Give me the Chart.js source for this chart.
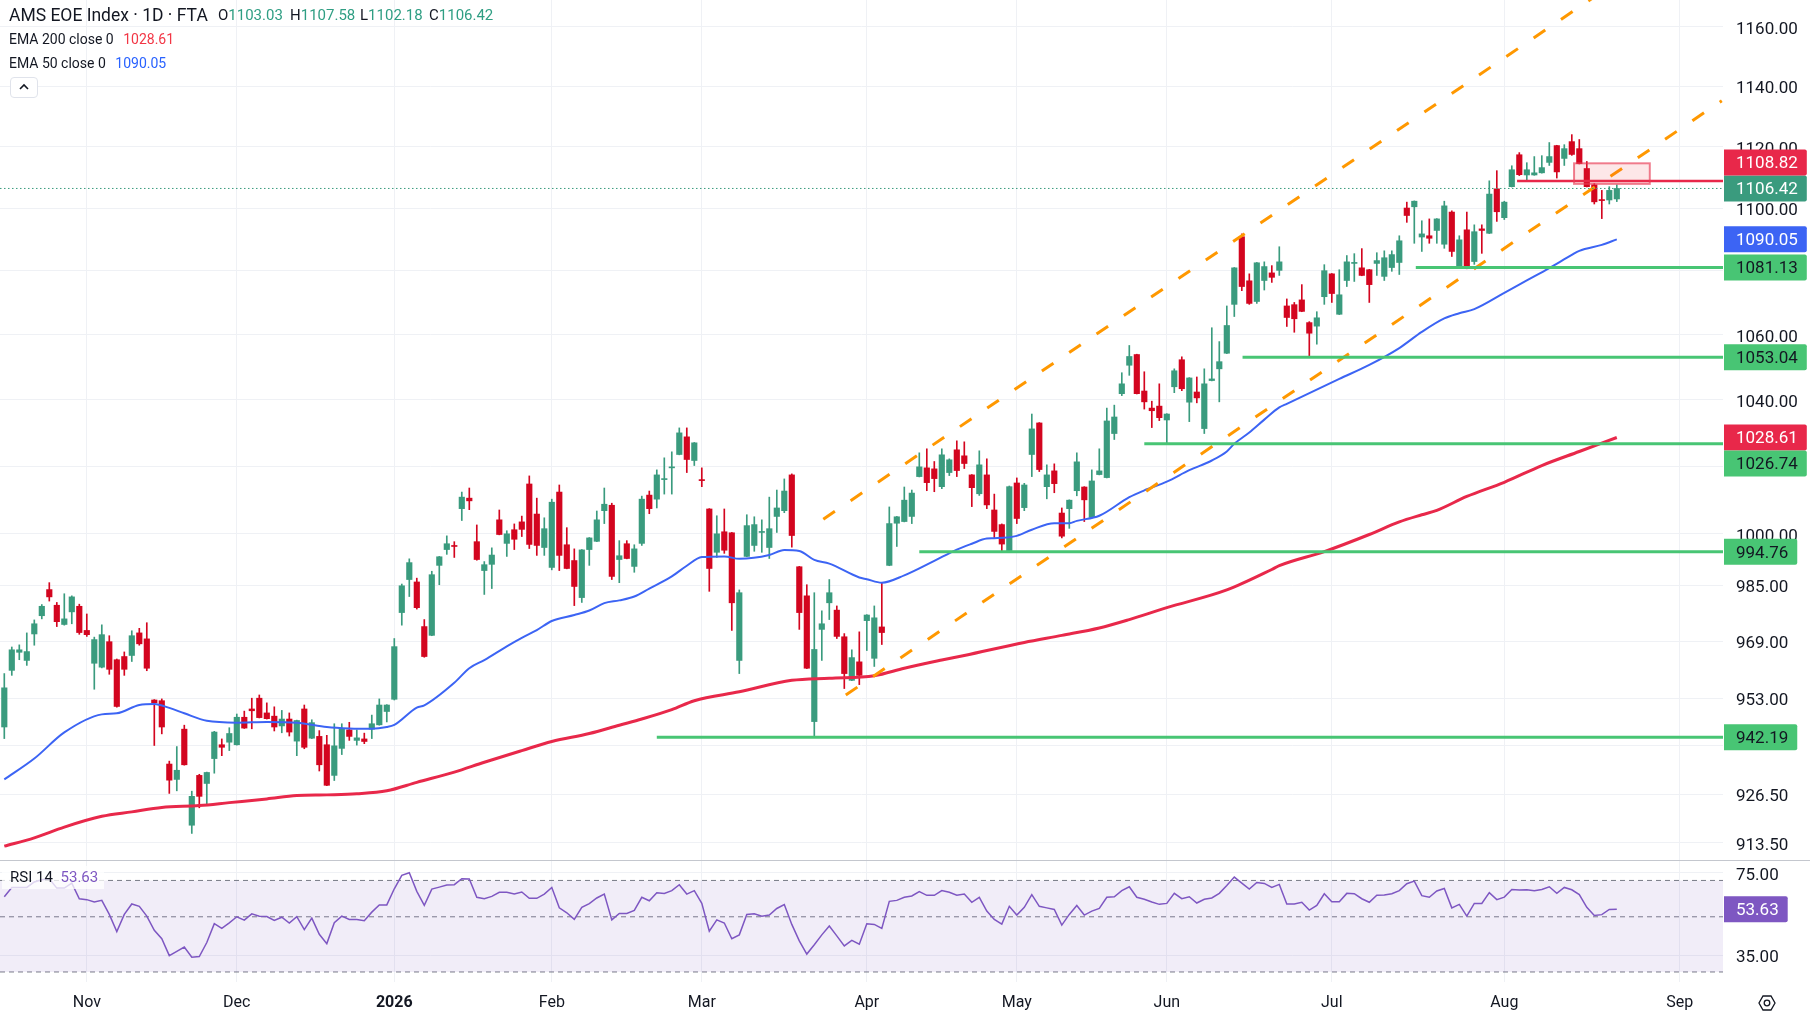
<!DOCTYPE html>
<html lang="en">
<head>
<meta charset="utf-8">
<title>AMS EOE Index · 1D · FTA</title>
<script src="https://cdn.jsdelivr.net/npm/chart.js@4.4.1/dist/chart.umd.min.js"></script>
<style>
html, body { margin: 0; padding: 0; background: #ffffff; }
body { position: relative; width: 1810px; height: 1019px; overflow: hidden; font-family: Roboto, "Noto Sans", sans-serif; color: #131722; }
canvas { position: absolute; left: 0; }
#mainChart { top: 0; }
#rsiChart { top: 861px; }
#sep { position: absolute; left: 0; top: 860px; width: 1810px; height: 1px; background: #c4c7ce; }
.txt { position: absolute; white-space: nowrap; }
.up { color: #2f9e83; }
#btn { position: absolute; left: 10px; top: 77px; width: 26px; height: 19px; border: 1px solid #e0e3eb; border-radius: 4px; background: #fff; }
#rsiLegend { position: absolute; left: 2px; top: 866px; height: 23px; padding: 0 6px 0 8px; background: rgba(255,255,255,0.75); font-size: 15px; line-height: 23px; }
</style>
</head>
<body>
<canvas id="mainChart" width="1810" height="860"></canvas>
<div id="sep"></div>
<canvas id="rsiChart" width="1810" height="158"></canvas>

<div class="txt" style="left:9px;top:4px;font-size:17.5px;line-height:22px;">AMS EOE Index · 1D · FTA</div>
<div class="txt" style="left:218px;top:5px;font-size:15px;line-height:20px;">O<span id="vO" class="up"></span></div>
<div class="txt" style="left:290px;top:5px;font-size:15px;line-height:20px;">H<span id="vH" class="up"></span></div>
<div class="txt" style="left:360px;top:5px;font-size:15px;line-height:20px;">L<span id="vL" class="up"></span></div>
<div class="txt" style="left:429px;top:5px;font-size:15px;line-height:20px;">C<span id="vC" class="up"></span></div>
<div class="txt" style="left:9px;top:30px;font-size:14px;line-height:18px;">EMA 200 close 0 <span id="vE200" style="color:#f23645;margin-left:6px;"></span></div>
<div class="txt" style="left:9px;top:54px;font-size:14px;line-height:18px;">EMA 50 close 0 <span id="vE50" style="color:#2962ff;margin-left:6px;"></span></div>
<div id="btn"><svg width="26" height="19" viewBox="0 0 26 19"><polyline points="9,11 13,7 17,11" fill="none" stroke="#131722" stroke-width="1.6"/></svg></div>
<div id="rsiLegend">RSI 14 <span id="vRsi" style="color:#7e57c2;margin-left:4px;"></span></div>
<svg style="position:absolute;left:1758px;top:994px" width="18" height="18" viewBox="0 0 18 18"><path d="M5 2 L13 2 L17 9 L13 16 L5 16 L1 9 Z" fill="none" stroke="#131722" stroke-width="1.3"/><circle cx="9" cy="9" r="2.8" fill="none" stroke="#131722" stroke-width="1.3"/></svg>

<script>
// daily candles, 17 Oct 2025 .. 24 Aug 2026 (bar index 0..215)
const opens = [945.0,960.8,965.9,963.6,971.1,976.3,983.8,979.3,973.8,977.4,
979.0,972.1,962.8,961.7,968.9,963.8,964.7,965.0,971.4,969.7,
952.5,952.3,934.8,930.6,944.4,918.2,931.7,929.5,936.3,940.1,
940.8,940.1,947.7,950.0,953.0,948.9,948.0,945.3,947.2,941.1,
950.0,941.9,942.4,940.1,931.7,939.1,944.2,941.3,941.7,944.4,
945.6,949.3,952.7,977.2,986.7,986.0,973.2,970.7,990.8,995.4,
996.5,1007.4,1010.5,997.7,989.3,991.1,1004.1,997.2,1001.2,1003.5,
1014.7,1005.8,996.0,990.2,1012.3,996.8,992.2,981.5,995.4,997.8,
1006.8,1008.4,992.5,997.1,990.5,997.2,1011.4,1010.2,1016.0,1019.5,
1023.5,1028.8,1021.7,1016.0,1007.3,994.6,1000.6,1000.3,963.6,993.4,
996.6,1000.4,996.0,1005.1,1006.8,1017.4,990.4,982.0,946.5,972.4,
980.0,977.9,970.3,958.0,963.2,974.9,964.2,973.1,990.8,1003.1,
1003.6,1005.1,1016.9,1019.5,1019.2,1013.9,1018.1,1024.9,1023.1,1017.4,
1011.8,1017.4,1007.0,1002.7,995.1,1015.0,1007.7,1023.5,1033.0,1013.9,
1018.6,1006.1,1007.4,1012.7,1013.8,1004.8,1017.5,1016.6,1029.8,1041.9,
1050.6,1053.9,1042.7,1037.5,1038.1,1033.9,1044.0,1052.3,1039.3,1042.4,
1031.3,1045.9,1049.5,1054.3,1069.5,1090.9,1076.9,1070.4,1077.0,1079.4,
1080.2,1069.0,1069.4,1070.9,1063.8,1062.7,1071.9,1079.1,1066.4,1077.0,
1082.4,1081.0,1080.4,1082.4,1078.3,1081.1,1082.7,1100.1,1100.5,1090.8,
1091.2,1092.9,1088.5,1098.8,1081.5,1093.1,1083.0,1093.4,1092.0,1106.3,
1097.0,1107.0,1117.4,1110.8,1110.8,1111.5,1114.9,1120.4,1116.2,1121.7,
1119.4,1112.9,1107.6,1102.7,1102.7,1103.03];

const highs = [959.9,967.4,968.0,971.4,975.1,979.5,985.8,980.1,982.6,982.0,
979.6,976.8,970.2,973.7,970.6,964.0,966.0,972.0,972.7,974.3,
952.6,952.8,935.6,939.6,945.5,927.4,932.0,932.6,943.8,941.7,
944.8,948.6,949.4,953.0,953.9,951.7,950.6,949.6,948.9,946.9,
951.1,947.0,944.0,942.7,945.9,945.9,946.3,944.2,943.3,948.3,
952.8,951.2,969.8,985.4,992.7,987.1,975.2,989.1,993.4,999.4,
997.7,1012.3,1013.5,1002.6,991.9,995.9,1007.0,1000.9,1002.9,1005.2,
1017.1,1010.5,1004.7,1010.2,1014.4,1001.8,995.6,995.4,998.9,1006.7,
1013.5,1009.0,998.0,998.0,996.8,1011.1,1012.6,1018.9,1022.5,1024.3,
1031.5,1031.5,1027.1,1019.5,1007.4,1005.3,1007.3,1000.4,983.7,1005.6,
1005.0,1004.1,1010.8,1012.9,1016.2,1017.7,990.5,985.2,982.9,977.7,
986.7,979.1,971.2,966.6,971.7,976.6,979.1,985.8,1007.9,1005.1,
1013.8,1012.9,1024.0,1025.2,1021.4,1025.2,1022.2,1027.6,1027.3,1017.5,
1024.6,1022.2,1011.7,1002.9,1014.1,1016.5,1014.9,1035.7,1033.1,1020.4,
1020.7,1007.6,1010.0,1024.0,1013.9,1018.9,1025.2,1037.5,1038.4,1048.3,
1056.7,1054.0,1048.6,1039.6,1044.9,1035.8,1049.5,1053.2,1046.8,1047.0,
1049.5,1062.2,1057.9,1069.0,1081.1,1091.8,1079.1,1082.7,1082.9,1081.7,
1087.7,1071.2,1070.1,1075.7,1064.1,1067.2,1082.0,1079.2,1080.4,1084.9,
1085.5,1087.1,1080.5,1085.8,1086.4,1086.4,1091.2,1102.0,1102.4,1096.0,
1096.6,1096.7,1102.3,1099.2,1091.2,1098.8,1094.7,1094.7,1108.9,1112.2,
1102.3,1113.8,1118.1,1114.8,1116.8,1117.1,1121.4,1120.5,1120.7,1124.0,
1122.4,1115.2,1108.0,1105.8,1107.0,1107.58];

const lows = [941.8,959.4,963.8,962.2,967.9,975.4,980.5,973.2,973.6,974.0,
971.0,970.4,955.5,961.5,959.7,950.5,959.4,963.3,967.9,960.7,
939.9,943.1,926.8,927.5,934.5,916.0,922.9,923.5,932.3,937.1,
938.5,940.0,944.6,944.5,947.5,947.2,943.9,943.4,942.5,937.1,
939.0,941.8,932.9,928.9,930.3,937.4,941.3,940.0,940.4,941.8,
945.5,946.4,952.5,973.6,981.8,978.2,964.5,970.6,985.2,994.0,
993.1,1003.9,1007.1,992.3,982.4,984.1,999.7,993.4,995.4,999.2,
995.7,993.7,993.7,989.5,989.3,989.8,979.2,980.1,990.8,997.7,
1003.0,986.7,985.8,992.7,988.8,996.6,1005.9,1007.6,1011.7,1011.7,
1023.4,1018.1,1020.2,1013.9,983.3,993.1,994.3,972.1,959.9,993.3,
994.9,994.6,992.8,1000.4,1006.2,996.1,972.4,961.3,942.2,963.6,
975.2,969.8,955.7,957.9,956.8,966.4,961.9,968.1,990.7,996.3,
1003.5,1003.0,1016.8,1012.7,1012.4,1013.3,1017.2,1016.9,1019.3,1008.0,
1011.3,1007.4,998.8,994.6,994.9,1003.0,1006.8,1016.9,1018.4,1010.3,
1012.1,998.8,1001.6,1011.2,1003.6,1004.7,1017.4,1016.5,1028.0,1041.3,
1047.5,1041.8,1037.2,1031.6,1033.7,1027.0,1042.2,1042.8,1033.4,1039.1,
1029.8,1045.8,1039.4,1054.2,1065.7,1073.8,1069.5,1069.8,1074.0,1076.4,
1078.6,1062.6,1060.8,1067.2,1053.1,1057.1,1069.5,1070.1,1066.3,1075.1,
1076.7,1078.5,1070.1,1078.6,1077.0,1079.9,1078.9,1095.5,1088.8,1086.2,
1088.8,1088.8,1087.2,1084.6,1081.4,1080.7,1082.1,1085.6,1091.9,1095.8,
1096.4,1106.9,1110.6,1109.0,1110.7,1111.4,1113.9,1109.8,1113.9,1117.2,
1114.4,1106.9,1101.4,1096.7,1101.4,1102.18];

const closes = [955.9,966.6,966.6,966.1,974.0,979.0,981.7,974.6,975.4,981.7,
971.5,970.9,969.5,970.9,961.1,950.7,961.1,970.6,968.3,961.4,
951.7,945.0,930.4,933.1,934.6,926.0,926.0,932.5,943.6,939.4,
943.2,947.7,944.7,949.5,947.6,947.3,945.0,947.2,943.6,946.8,
939.4,946.2,934.6,929.0,939.8,944.6,942.4,942.0,941.0,945.9,
951.1,951.1,967.5,984.9,991.6,978.6,964.7,988.1,993.3,997.1,
996.3,1010.8,1009.7,992.5,991.0,993.8,999.8,1000.0,998.4,1001.3,
996.9,996.6,1001.5,1009.3,993.7,989.9,984.7,995.3,998.8,1004.1,
1008.7,987.6,993.6,992.8,995.6,1010.2,1007.4,1017.4,1016.3,1019.8,
1030.0,1022.0,1027.0,1015.7,989.9,1000.0,995.2,980.0,982.9,1002.4,
1002.7,1000.6,1001.5,1007.6,1012.6,999.5,977.2,961.4,966.7,974.0,
982.9,970.4,959.9,964.4,959.4,976.5,975.7,971.5,1003.0,1005.0,
1009.9,1012.0,1019.8,1015.1,1016.3,1023.4,1021.9,1018.7,1020.8,1013.6,
1020.4,1008.5,1000.7,997.0,1013.9,1004.5,1014.4,1031.2,1019.0,1017.4,
1014.8,999.3,1009.9,1021.3,1010.0,1015.6,1018.6,1033.6,1034.8,1044.9,
1053.3,1041.9,1039.4,1036.7,1034.6,1035.7,1048.9,1043.4,1046.7,1040.6,
1044.9,1046.4,1051.7,1062.9,1081.0,1075.1,1069.8,1082.6,1081.4,1078.0,
1082.9,1065.4,1065.0,1067.3,1060.5,1065.3,1080.1,1072.9,1072.5,1082.9,
1082.6,1078.6,1075.7,1083.3,1084.2,1085.2,1089.6,1097.7,1102.3,1091.8,
1090.4,1096.6,1100.8,1086.2,1089.9,1080.8,1092.5,1092.9,1104.6,1098.9,
1102.0,1112.5,1110.9,1112.5,1111.5,1113.2,1116.8,1111.8,1119.4,1117.5,
1114.5,1107.0,1102.1,1102.5,1105.8,1106.42];

// EMA 50 / EMA 200 at these bar indexes
const ema50Idx = [0,4,8,13,15,18,20,22,24,27,31,35,39,43,46,49,51,52,55,56,60,62,64,67,69,71,73,76,78,80,82,84,86,89,91,93,96,98,102,104,106,108,110,114,115,117,120,124,127,129,131,132,135,137,140,142,143,146,150,152,155,158,161,163,164,166,168,170,171,178,182,186,189,192,194,196,200,203,206,209,210,213,215];
const ema50Val = [930.6,936.3,943.5,948.5,948.8,951.1,951.4,950.3,948.8,946.7,946.2,946.4,946.2,945.0,944.6,944.5,945.0,945.6,950.4,951.0,957.3,961.4,963.7,967.6,970.0,972.2,974.8,976.5,977.8,979.9,980.7,981.8,984.1,987.6,990.7,993.2,993.4,992.7,993.8,995.3,995.0,992.4,991.3,987.3,986.8,985.8,987.9,992.1,995.4,997.1,998.6,998.7,999.4,1001.2,1003.1,1003.1,1003.8,1005.3,1010.8,1012.8,1015.4,1018.8,1021.7,1024.4,1026.7,1030.1,1034.0,1037.7,1038.8,1046.4,1050.7,1055.9,1060.9,1065.1,1066.7,1068.0,1073.1,1077.0,1080.9,1085.1,1086.4,1088.3,1090.05];
const ema200Idx = [0,4,8,13,17,21,26,30,35,39,43,47,51,55,60,64,69,73,78,82,85,89,92,98,105,110,116,120,125,128,136,141,146,150,155,163,169,170,176,182,186,189,191,195,200,205,210,215];
const ema200Val = [912.6,914.8,917.7,920.6,921.8,923.0,923.5,924.3,925.3,926.2,926.4,926.7,927.5,929.8,932.6,935.3,938.5,941.0,943.2,945.5,947.2,949.8,952.3,954.8,958.0,958.6,959.3,961.4,963.7,965.0,968.7,970.7,972.8,975.2,978.6,983.7,989.6,990.7,994.8,999.8,1003.5,1005.6,1006.9,1011.0,1015.2,1020.2,1024.4,1028.61];

// RSI 14, one value per bar
const rsiVals = [60.2,65.6,65.6,65.6,69.0,70.4,71.1,65.2,65.2,68.3,
59.1,58.6,57.3,58.2,51.1,43.6,51.1,56.3,55.1,50.3,
44.1,40.8,34.9,36.3,37.8,34.4,34.6,39.4,46.9,44.9,
47.3,50.0,48.5,51.4,50.3,50.1,48.3,49.8,47.2,50.1,
44.4,49.4,42.5,39.0,47.3,50.3,48.8,48.8,48.2,52.2,
55.8,55.8,64.8,73.4,75.2,63.3,55.6,64.6,65.8,67.1,
67.3,71.1,70.9,59.9,59.1,60.4,62.7,62.7,61.7,62.9,
59.3,59.3,61.7,65.6,54.3,51.9,48.8,54.6,56.5,59.5,
61.7,48.6,51.6,51.6,53.0,59.9,58.0,62.5,62.1,63.7,
67.3,61.7,63.7,56.6,43.8,48.6,47.2,40.8,42.3,51.1,
51.4,50.3,50.8,54.0,56.0,46.6,40.0,35.4,38.6,42.3,
45.9,41.9,38.2,40.2,38.8,46.9,46.6,44.9,57.7,58.2,
59.9,60.6,63.1,61.0,61.0,63.7,62.7,61.0,61.7,57.2,
59.9,52.7,48.8,46.7,55.1,50.8,54.6,61.4,55.1,54.3,
53.5,46.3,51.1,55.5,50.8,52.7,54.0,59.9,60.2,63.7,
66.0,59.9,58.8,57.3,56.1,56.6,62.1,59.1,60.2,56.8,
58.8,59.5,62.1,66.8,72.2,68.3,64.6,68.7,68.1,65.6,
67.5,56.3,56.3,57.2,53.2,55.5,61.9,57.5,57.5,62.1,
61.9,59.1,57.2,61.0,61.2,61.9,63.7,67.9,69.6,60.8,
59.9,63.5,65.0,54.3,56.1,50.3,56.6,56.6,62.5,58.6,
60.0,64.4,64.0,64.2,63.7,64.4,66.0,62.1,65.6,64.2,
61.4,54.6,50.6,51.0,53.5,53.63];
const rsiBands = [70, 50, 30];

// drawings
const supportLevels = [1081.13, 1053.04, 1026.74, 994.76, 942.19];
const supportStarts = [188.2, 165.1, 152.0, 122.0, 87.0];
const resistLevel = 1108.82;
const resistStart = 201.7;
const channelUpperX = [109.2, 215];
const channelUpperY = [1004.3, 1175.5];
const channelLowerX = [112.2, 229.0];
const channelLowerY = [953.9, 1135.2];
const zoneX = [209.3, 219.4];
const zoneY = [1107.9, 1114.6];

// axes
const monthIdx = [11, 31, 52, 73, 93, 115, 135, 155, 177, 200, 223.4];
const monthLabels = ['Nov', 'Dec', '2026', 'Feb', 'Mar', 'Apr', 'May', 'Jun', 'Jul', 'Aug', 'Sep'];
const priceTicks = [913.5, 926.5, 940, 953, 969, 985, 1000, 1020, 1040, 1060, 1080, 1100, 1120, 1140, 1160];
const priceTickLabels = ['913.50', '926.50', '', '953.00', '969.00', '985.00', '1000.00', '', '1040.00', '1060.00', '', '1100.00', '1120.00', '1140.00', '1160.00'];
const rsiTicks = [35, 75];
const rsiTickLabels = ['35.00', '75.00'];

const X_MIN = -0.573, X_MAX = 229.16;
const UP = '#3a9b7e', DOWN = '#d3051f';
const GREEN_LINE = '#48c574', RED_LINE = '#e8284a', BLUE_LINE = '#3c64f4';
const GRID = '#eff1f5';
const TEXT = '#131722';

const last = closes.length - 1;
document.getElementById('vO').textContent = opens[last].toFixed(2);
document.getElementById('vH').textContent = highs[last].toFixed(2);
document.getElementById('vL').textContent = lows[last].toFixed(2);
document.getElementById('vC').textContent = closes[last].toFixed(2);
document.getElementById('vE200').textContent = ema200Val[ema200Val.length - 1].toFixed(2);
document.getElementById('vE50').textContent = ema50Val[ema50Val.length - 1].toFixed(2);
document.getElementById('vRsi').textContent = rsiVals[last].toFixed(2);

const candleColors = closes.map((c, i) => c >= opens[i] ? UP : DOWN);
const wickData = closes.map((c, i) => ({ x: i, y: [lows[i], highs[i]] }));
const bodyData = closes.map((c, i) => ({ x: i, y: [Math.min(opens[i], c), Math.max(opens[i], c)] }));
const pairs = (xs, ys) => xs.map((x, k) => ({ x: x, y: ys[k] }));
const flat = (x0, v) => [{ x: x0, y: v }, { x: X_MAX, y: v }];

function lineSet(data, color, width, extra) {
	return Object.assign({
		type: 'line', data: data, borderColor: color, borderWidth: width,
		pointRadius: 0, fill: false, order: 0
	}, extra || {});
}

function tagPlugin(axisId, tags) {
	return {
		id: 'tags_' + axisId,
		afterDraw(chart) {
			const { ctx } = chart;
			const sc = chart.scales[axisId];
			const h = 26;
			const placed = [];
			tags.slice().sort((a, b) => a.rank - b.rank).forEach(t => {
				let py = sc.getPixelForValue(t.value);
				placed.forEach(p => {
					if (Math.abs(py - p.py) < h)
						py = py < p.py ? p.py - h : p.py + h;
				});
				placed.push(Object.assign({}, t, { py: py }));
			});
			ctx.save();
			ctx.font = '17px Roboto';
			ctx.textBaseline = 'middle';
			placed.forEach(t => {
				const label = t.value.toFixed(2);
				const w = ctx.measureText(label).width + 21;
				const x0 = sc.left + 1;
				ctx.fillStyle = t.bg;
				ctx.beginPath();
				ctx.roundRect(x0, t.py - h / 2, w, h, [0, 2, 2, 0]);
				ctx.fill();
				ctx.fillStyle = t.fg;
				ctx.fillText(label, x0 + 12, t.py + 1.5);
			});
			ctx.restore();
		}
	};
}

const zonePlugin = {
	id: 'zone',
	afterDatasetsDraw(chart) {
		const { ctx, scales: { x, y } } = chart;
		const x0 = x.getPixelForValue(zoneX[0]), x1 = x.getPixelForValue(zoneX[1]);
		const y0 = y.getPixelForValue(zoneY[1]), y1 = y.getPixelForValue(zoneY[0]);
		ctx.save();
		ctx.fillStyle = 'rgba(242, 54, 69, 0.12)';
		ctx.fillRect(x0, y0, x1 - x0, y1 - y0);
		ctx.strokeStyle = 'rgba(232, 60, 85, 0.65)';
		ctx.lineWidth = 2;
		ctx.strokeRect(x0, y0, x1 - x0, y1 - y0);
		ctx.restore();
	}
};

const xAxisBase = {
	type: 'linear', min: X_MIN, max: X_MAX, offset: false, bounds: 'data',
	afterBuildTicks: s => { s.ticks = monthIdx.map(v => ({ value: v })); },
	grid: { color: GRID, drawTicks: false, offset: false },
	border: { display: false }
};

const mainDatasets = [
	...supportLevels.map((v, k) => lineSet(flat(supportStarts[k], v), GREEN_LINE, 3)),
	lineSet(flat(resistStart, resistLevel), RED_LINE, 2.5),
	lineSet(flat(X_MIN, closes[last]), UP, 1, { borderDash: [1.5, 2.5] }),
	lineSet(pairs(channelUpperX, channelUpperY), '#ff9800', 3, { borderDash: [14, 19] }),
	lineSet(pairs(channelLowerX, channelLowerY), '#ff9800', 3, { borderDash: [14, 19] }),
	lineSet(pairs(ema200Idx, ema200Val), RED_LINE, 3, { order: 1, cubicInterpolationMode: 'monotone' }),
	lineSet(pairs(ema50Idx, ema50Val), BLUE_LINE, 2, { order: 1, cubicInterpolationMode: 'monotone' }),
	{ type: 'bar', data: bodyData, backgroundColor: candleColors, barThickness: 5.5, grouped: false, minBarLength: 1, order: 2 },
	{ type: 'bar', data: wickData, backgroundColor: candleColors, barThickness: 1, grouped: false, order: 3 }
];

const mainTags = [
	{ value: closes[last], bg: UP, fg: '#ffffff', rank: 0 },
	{ value: ema50Val[ema50Val.length - 1], bg: BLUE_LINE, fg: '#ffffff', rank: 1 },
	{ value: ema200Val[ema200Val.length - 1], bg: RED_LINE, fg: '#ffffff', rank: 1 },
	{ value: resistLevel, bg: RED_LINE, fg: '#ffffff', rank: 2 },
	...supportLevels.map(v => ({ value: v, bg: GREEN_LINE, fg: TEXT, rank: 2 }))
];

new Chart(document.getElementById('mainChart'), {
	type: 'bar',
	data: { datasets: mainDatasets },
	options: {
		responsive: false,
		animation: false,
		events: [],
		layout: { padding: 0 },
		plugins: { legend: { display: false }, tooltip: { enabled: false } },
		scales: {
			x: Object.assign({}, xAxisBase, {
				ticks: { display: false, autoSkip: false },
				afterFit: s => { s.height = 0; s.paddingLeft = 0; s.paddingRight = 0; }
			}),
			y: {
				type: 'logarithmic', position: 'right', min: 908.9, max: 1169.2, bounds: 'data',
				afterBuildTicks: s => { s.ticks = priceTicks.map(v => ({ value: v })); },
				afterFit: s => { s.width = 87; s.paddingTop = 0; s.paddingBottom = 0; },
				ticks: {
					autoSkip: false, padding: 13, labelOffset: 2.5, color: TEXT,
					font: { family: 'Roboto', size: 17 },
					callback: (v, i) => priceTickLabels[i]
				},
				grid: { color: GRID, drawTicks: false },
				border: { display: false }
			}
		}
	},
	plugins: [zonePlugin, tagPlugin('y', mainTags)]
});

const bandStyle = { borderDash: [5, 4], order: 1 };
new Chart(document.getElementById('rsiChart'), {
	type: 'line',
	data: {
		datasets: [
			lineSet(pairs(rsiVals.map((v, i) => i), rsiVals), '#7e57c2', 1.5),
			lineSet(flat(X_MIN, rsiBands[0]), '#787b86', 1, Object.assign({ fill: 3, backgroundColor: 'rgba(126, 87, 194, 0.11)' }, bandStyle)),
			lineSet(flat(X_MIN, rsiBands[1]), '#787b86', 1, bandStyle),
			lineSet(flat(X_MIN, rsiBands[2]), '#787b86', 1, bandStyle)
		]
	},
	options: {
		responsive: false,
		animation: false,
		events: [],
		layout: { padding: 0 },
		plugins: { legend: { display: false }, tooltip: { enabled: false } },
		scales: {
			x: Object.assign({}, xAxisBase, {
				ticks: {
					autoSkip: false, maxRotation: 0, padding: 11, color: TEXT,
					font: c => ({ family: 'Roboto', size: 16, weight: monthLabels[c.index] === '2026' ? 'bold' : 'normal' }),
					callback: (v, i) => monthLabels[i]
				},
				afterFit: s => { s.height = 37; s.paddingLeft = 0; s.paddingRight = 0; }
			}),
			y: {
				type: 'logarithmic', position: 'right', min: 27.34, max: 83.8, bounds: 'data',
				afterBuildTicks: s => { s.ticks = rsiTicks.map(v => ({ value: v })); },
				afterFit: s => { s.width = 87; s.paddingTop = 0; s.paddingBottom = 0; },
				ticks: {
					autoSkip: false, padding: 13, labelOffset: 2.5, color: TEXT,
					font: { family: 'Roboto', size: 17 },
					callback: (v, i) => rsiTickLabels[i]
				},
				grid: { color: GRID, drawTicks: false },
				border: { display: false }
			}
		}
	},
	plugins: [tagPlugin('y', [{ value: rsiVals[last], bg: '#7e57c2', fg: '#ffffff', rank: 0 }])]
});
</script>
</body>
</html>
